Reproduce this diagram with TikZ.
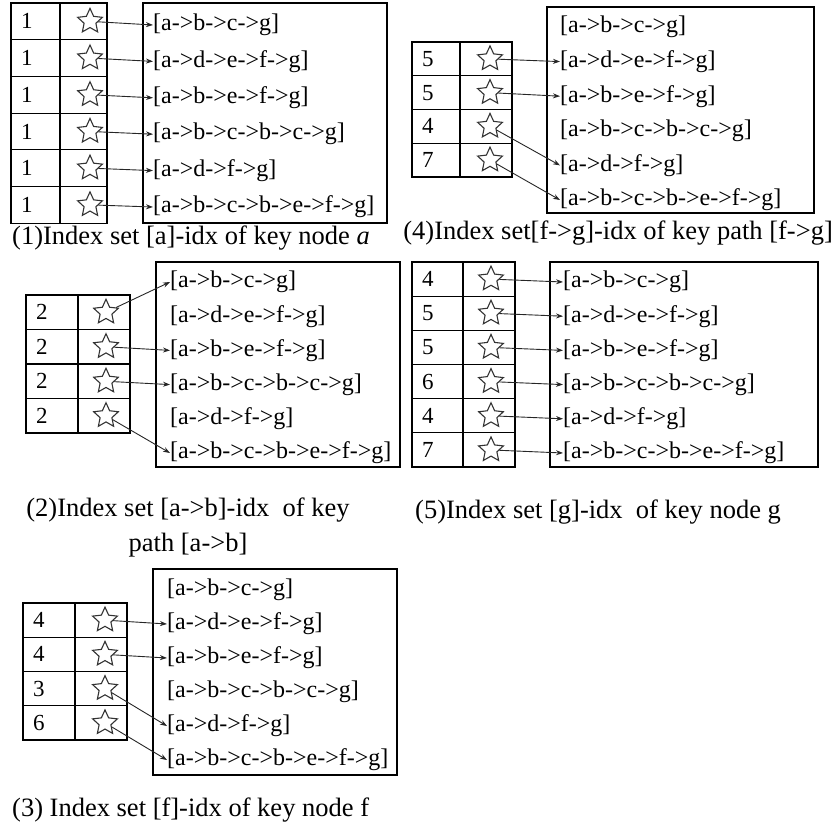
\documentclass[tikz,border=0pt]{standalone}
\usepackage{fontspec}
\setmainfont{Liberation Serif}
\usetikzlibrary{arrows.meta,shapes.geometric}
\newcommand{\idxpaths}{[a->b->c->g],[a->d->e->f->g],[a->b->e->f->g],[a->b->c->b->c->g],[a->d->f->g],[a->b->c->b->e->f->g]}

\begin{document}
\begin{tikzpicture}[x=1pt,y=-1pt,>={Stealth[length=7pt,width=5pt]},
  cell/.style={draw,line width=1.1pt,inner sep=0pt,font=\fontsize{23}{27}\selectfont},
  numcell/.style={cell,inner xsep=10pt,text width=#1,align=left},
  staricon/.style={star,star points=5,star point ratio=2.1,draw=black!80,line width=1.1pt,minimum size=26pt,inner sep=0pt},
  listbox/.style={draw,line width=1.1pt,inner sep=0pt},
  entry/.style={anchor=west,inner sep=0pt,font=\fontsize{24}{28}\selectfont},
  caption/.style={inner sep=0pt,font=\fontsize{26.5}{35}\selectfont},
  link/.style={->,line width=0.9pt,black!85}]
\useasboundingbox (0,0) rectangle (835,827);

% (1) key node a
\node[listbox,minimum width=244pt,minimum height=220pt] (box1) at (265,113) {};
\foreach \entry [count=\i] in \idxpaths
  \node[entry] (p1t\i) at (153,{25+(\i-1)*36.4}) {\entry};
\foreach \n [count=\i] in {1,1,1,1,1,1} {
  \node[numcell=29pt,minimum height=36.7pt] (p1n\i) at (35.5,{3+(\i-.5)*36.7}) {\n};
  \node[cell,minimum width=47pt,minimum height=36.7pt] (p1c\i) at (83.5,{3+(\i-.5)*36.7}) {};
  \node[staricon] (p1s\i) at (90,{3+(\i-.5)*36.7}) {};
  \draw[link] (p1s\i) -- (p1t\i.west);
}
\node[caption,anchor=west] (cap1) at (12,238) {(1)Index set [a]-idx of key node \textit{a}};

% (4) key path f->g
\node[listbox,minimum width=267pt,minimum height=206pt] (box4) at (680.5,110) {};
\foreach \entry [count=\i] in \idxpaths
  \node[entry] (p4t\i) at (560,{27+(\i-1)*34.6}) {\entry};
\foreach \n [count=\i] in {5,5,4,7} {
  \node[numcell=28pt,minimum height=33.75pt] (p4n\i) at (436,{42+(\i-.5)*33.75}) {\n};
  \node[cell,minimum width=52pt,minimum height=33.75pt] (p4c\i) at (486,{42+(\i-.5)*33.75}) {};
  \node[staricon] (p4s\i) at (490,{42+(\i-.5)*33.75}) {};
}
\foreach \r/\t in {1/2,2/3,3/5,4/6}
  \draw[link] (p4s\r) -- (p4t\t.west);
\node[caption,anchor=east] (cap4) at (833,233) {(4)Index set[f->g]-idx of key path [f->g]};

% (2) key path a->b
\node[listbox,minimum width=244pt,minimum height=205pt] (box2) at (278,364.5) {};
\foreach \entry [count=\i] in \idxpaths
  \node[entry] (p2t\i) at (170,{282+(\i-1)*34.2}) {\entry};
\foreach \n [count=\i] in {2,2,2,2} {
  \node[numcell=32pt,minimum height=34.5pt] (p2n\i) at (52,{295+(\i-.5)*34.5}) {\n};
  \node[cell,minimum width=52pt,minimum height=34.5pt] (p2c\i) at (104,{295+(\i-.5)*34.5}) {};
  \node[staricon] (p2s\i) at (106,{295+(\i-.5)*34.5}) {};
}
\foreach \r/\t in {1/1,2/3,3/4,4/6}
  \draw[link] (p2s\r) -- (p2t\t.west);
\node[caption,align=center] (cap2) at (188,527) {(2)Index set [a->b]-idx\ \ of key\\path [a->b]};

% (5) key node g
\node[listbox,minimum width=268pt,minimum height=205pt] (box5) at (684,364.5) {};
\foreach \entry [count=\i] in \idxpaths
  \node[entry] (p5t\i) at (563,{282+(\i-1)*34.2}) {\entry};
\foreach \n [count=\i] in {4,5,5,6,4,7} {
  \node[numcell=31pt,minimum height=34.17pt] (p5n\i) at (437.5,{262+(\i-.5)*34.17}) {\n};
  \node[cell,minimum width=52pt,minimum height=34.17pt] (p5c\i) at (489,{262+(\i-.5)*34.17}) {};
  \node[staricon] (p5s\i) at (491,{262+(\i-.5)*34.17}) {};
  \draw[link] (p5s\i) -- (p5t\i.west);
}
\node[caption,anchor=west] (cap5) at (415,512) {(5)Index set [g]-idx\ \ of key node g};

% (3) key node f
\node[listbox,minimum width=244pt,minimum height=206pt] (box3) at (275,672) {};
\foreach \entry [count=\i] in \idxpaths
  \node[entry] (p3t\i) at (167,{590+(\i-1)*34}) {\entry};
\foreach \n [count=\i] in {4,4,3,6} {
  \node[numcell=32pt,minimum height=34.25pt] (p3n\i) at (49,{603+(\i-.5)*34.25}) {\n};
  \node[cell,minimum width=52pt,minimum height=34.25pt] (p3c\i) at (101,{603+(\i-.5)*34.25}) {};
  \node[staricon] (p3s\i) at (105,{603+(\i-.5)*34.25}) {};
}
\foreach \r/\t in {1/2,2/3,3/5,4/6}
  \draw[link] (p3s\r) -- (p3t\t.west);
\node[caption,anchor=west] (cap3) at (12,810) {(3) Index set [f]-idx of key node f};
\end{tikzpicture}
\end{document}
